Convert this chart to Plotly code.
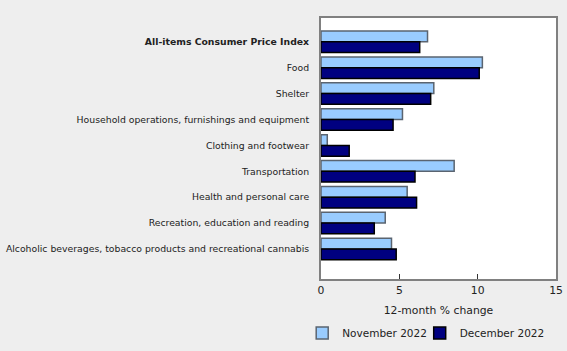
import plotly.graph_objects as go

categories = [
    "<b>All-items Consumer Price Index</b>",
    "Food",
    "Shelter",
    "Household operations, furnishings and equipment",
    "Clothing and footwear",
    "Transportation",
    "Health and personal care",
    "Recreation, education and reading",
    "Alcoholic beverages, tobacco products and recreational cannabis",
]
nov_2022 = [6.8, 10.3, 7.2, 5.2, 0.4, 8.5, 5.5, 4.1, 4.5]
dec_2022 = [6.3, 10.1, 7.0, 4.6, 1.8, 6.0, 6.1, 3.4, 4.8]
x_ticks = [0, 5, 10, 15]

fig = go.Figure()
fig.add_trace(go.Bar(
    y=categories, x=nov_2022, orientation="h", name="November 2022",
    marker=dict(color="#99CCFF", line=dict(color="#5A6470", width=1.5)),
    legend="legend",
))
fig.add_trace(go.Bar(
    y=categories, x=dec_2022, orientation="h", name="December 2022",
    marker=dict(color="#000080", line=dict(color="#000000", width=1.5)),
    legend="legend2",
))

leg_common = dict(orientation="h", yanchor="middle", y=-0.207, xanchor="left",
                  itemwidth=30, font=dict(size=10.5), bgcolor="rgba(0,0,0,0)")

fig.update_layout(
    width=567, height=351,
    margin=dict(l=321, r=11, t=18, b=72, autoexpand=False),
    paper_bgcolor="#EEEEEE", plot_bgcolor="#FFFFFF",
    barmode="group", bargap=0.17, bargroupgap=0,
    font=dict(family="DejaVu Sans", size=9.3, color="#222222"),
    showlegend=True,
    legend=dict(x=-0.08, **leg_common),
    legend2=dict(x=0.42, **leg_common),
    xaxis=dict(range=[0, 15], tickvals=x_ticks, ticks="inside", ticklen=5,
               tickcolor="#333333", showgrid=False, zeroline=False, automargin=False,
               showline=True, mirror=True, linecolor="#808080", linewidth=2,
               title=dict(text="12-month % change", font=dict(size=10.8), standoff=10),
               tickfont=dict(size=10.8)),
    yaxis=dict(range=[9.16, -0.92], showgrid=False, zeroline=False, automargin=False,
               showline=True, mirror=True, linecolor="#808080", linewidth=2,
               ticks="", ticklabelstandoff=8, tickfont=dict(size=9.3)),
)

fig.write_html("out.html")
